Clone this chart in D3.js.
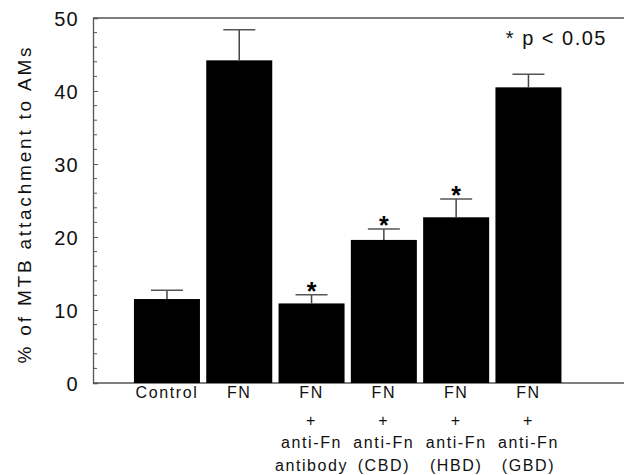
<!DOCTYPE html>
<html><head><meta charset="utf-8">
<script src="https://cdn.jsdelivr.net/npm/d3@7"></script>
<style>body{margin:0;background:#fff;} svg{display:block;}</style>
</head><body>
<script>
const categories = ["Control","FN","FN+antibody","FN+CBD","FN+HBD","FN+GBD"];
const labelLines = [
  ["Control"],
  ["FN"],
  ["FN","+","anti-Fn","antibody"],
  ["FN","+","anti-Fn","(CBD)"],
  ["FN","+","anti-Fn","(HBD)"],
  ["FN","+","anti-Fn","(GBD)"]
];
const values = [11.5, 44.2, 10.9, 19.6, 22.7, 40.5];
const errors = [1.2, 4.2, 1.2, 1.5, 2.5, 1.8];
const significant = [false, false, true, true, true, false];
const yTicks = [0, 10, 20, 30, 40, 50];
const yLabel = "% of MTB attachment to AMs";
const note = "* p < 0.05";

(function () {
const W = 624, H = 475;
const pLeft = 93, pRight = 624, pTop = 18, pBottom = 383;
const font = "'Liberation Sans', Arial, sans-serif";
const axisColor = "#555";

const svg = d3.select("body").append("svg").attr("width", W).attr("height", H);

const y = d3.scaleLinear().domain([0, 50]).range([pBottom, pTop]);
const x = d3.scaleBand().domain(categories).range([130.8, 564.6]).paddingInner(0.087).paddingOuter(0.0435);

// frame lines
svg.append("line").attr("x1", pLeft).attr("x2", pRight).attr("y1", pTop).attr("y2", pTop)
  .attr("stroke", axisColor).attr("stroke-width", 1.3);
svg.append("line").attr("x1", pLeft).attr("x2", pRight).attr("y1", pBottom).attr("y2", pBottom)
  .attr("stroke", axisColor).attr("stroke-width", 1.3);

// y axis with inward ticks
const yAxis = d3.axisLeft(y).tickValues(yTicks).tickSize(-5).tickPadding(14).tickFormat(d3.format("d"));
const gy = svg.append("g").attr("transform", `translate(${pLeft},0)`).call(yAxis);
gy.select(".domain").attr("stroke", axisColor).attr("stroke-width", 1.3);
gy.selectAll(".tick line").attr("stroke", axisColor).attr("stroke-width", 1);
gy.selectAll(".tick text").attr("font-family", font).attr("font-size", 20)
  .attr("letter-spacing", "1.3px").attr("fill", "#111").attr("dy", "0.36em");
const minor = d3.range(0, 50.01, 2).filter(v => v % 10 !== 0);
svg.append("g").selectAll("line").data(minor).join("line")
  .attr("x1", pLeft).attr("x2", pLeft + 4).attr("y1", d => y(d)).attr("y2", d => y(d))
  .attr("stroke", axisColor).attr("stroke-width", 1);

// bars
svg.append("g").selectAll("rect").data(categories).join("rect")
  .attr("x", d => x(d)).attr("width", x.bandwidth())
  .attr("y", (d, i) => y(values[i])).attr("height", (d, i) => y(0) - y(values[i]))
  .attr("fill", "#000");

// error bars
const eg = svg.append("g");
categories.forEach((c, i) => {
  const cx = x(c) + x.bandwidth() / 2;
  eg.append("line").attr("x1", cx).attr("x2", cx)
    .attr("y1", y(values[i])).attr("y2", y(values[i] + errors[i]))
    .attr("stroke", "#444").attr("stroke-width", 1.5);
  eg.append("line").attr("x1", cx - 16).attr("x2", cx + 16)
    .attr("y1", y(values[i] + errors[i])).attr("y2", y(values[i] + errors[i]))
    .attr("stroke", "#555").attr("stroke-width", 1.5);
  if (significant[i]) {
    eg.append("text").attr("x", cx).attr("y", y(values[i] + errors[i]) + 5)
      .attr("text-anchor", "middle").attr("font-family", font).attr("font-weight", "bold")
      .attr("font-size", 25).attr("fill", "#000").text("*");
  }
});

// category labels
const lineY = [398, 426, 448, 471];
categories.forEach((c, i) => {
  const cx = x(c) + x.bandwidth() / 2;
  labelLines[i].forEach((t, j) => {
    svg.append("text").attr("x", cx).attr("y", lineY[j]).attr("text-anchor", "middle")
      .attr("font-family", font).attr("font-size", 16).attr("letter-spacing", "1.6px")
      .attr("fill", "#111").text(t);
  });
});

// y label
svg.append("text").attr("transform", `translate(31,204) rotate(-90)`)
  .attr("text-anchor", "middle").attr("font-family", font).attr("font-size", 19)
  .attr("letter-spacing", "2.8px").attr("fill", "#111").text(yLabel);

// note
svg.append("text").attr("x", 607).attr("y", 45).attr("text-anchor", "end")
  .attr("font-family", font).attr("font-size", 20).attr("letter-spacing", "1.5px")
  .attr("fill", "#111").text(note);
})();
</script>
</body></html>
